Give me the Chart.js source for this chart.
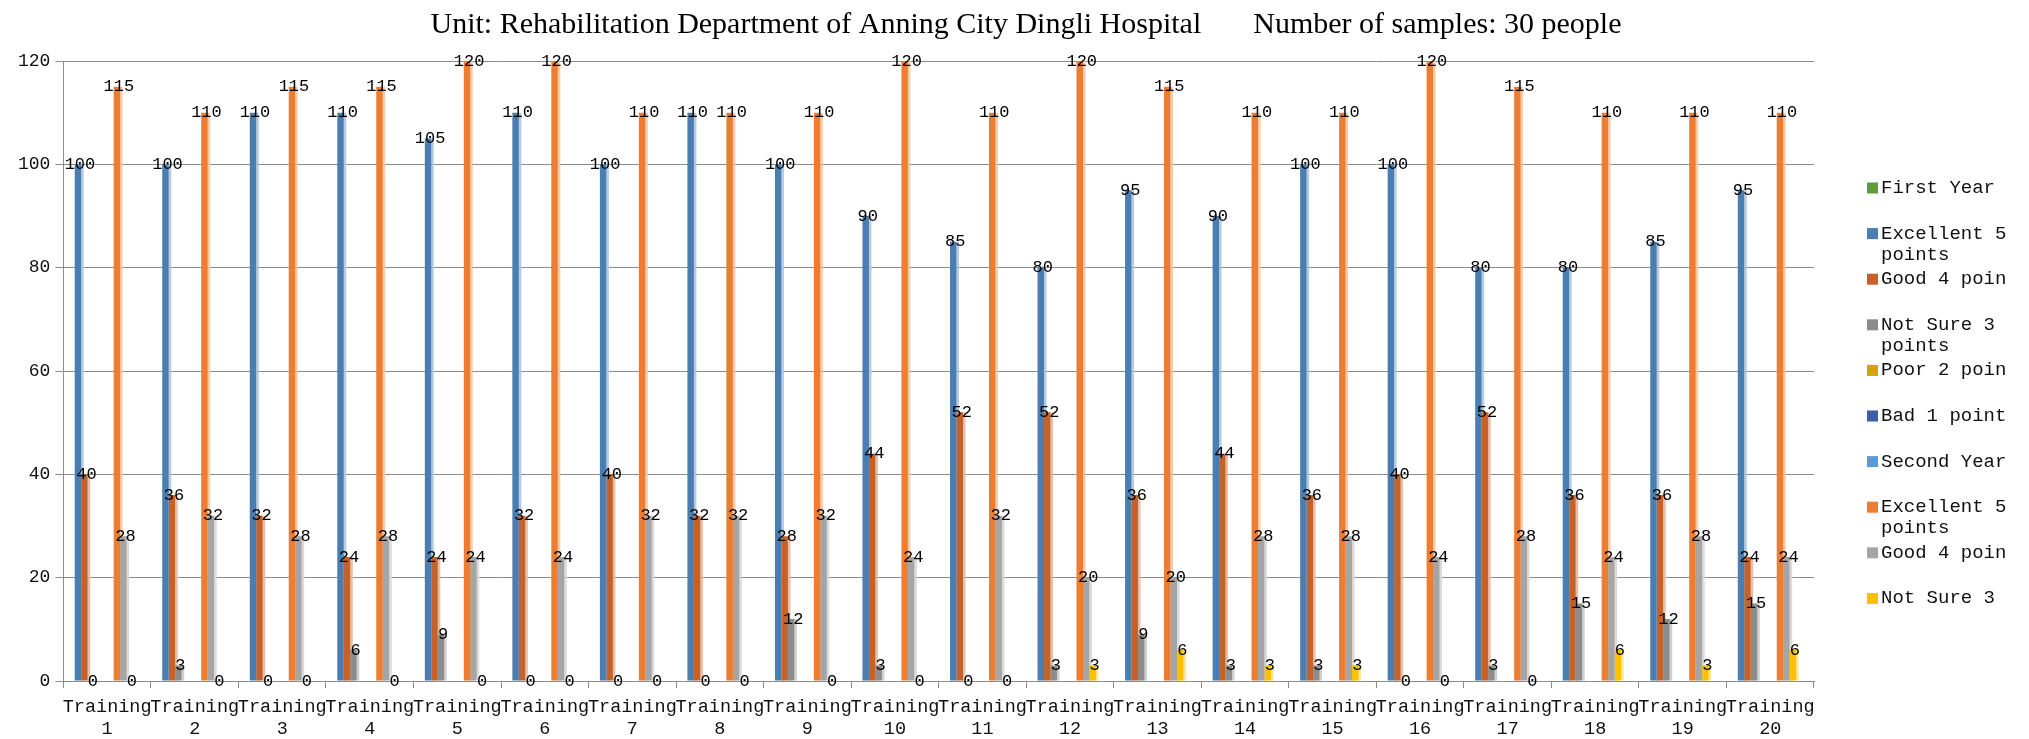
<!DOCTYPE html>
<html><head><meta charset="utf-8">
<script src="https://cdn.jsdelivr.net/npm/chart.js@4.4.0/dist/chart.umd.min.js"></script>
<style>html,body{margin:0;padding:0;background:#fff;overflow:hidden}canvas{display:block}</style>
</head><body>
<canvas id="c" width="2029" height="739"></canvas>
<script>
const titleLeft = "Unit: Rehabilitation Department of Anning City Dingli Hospital";
const titleRight = "Number of samples: 30 people";
const categories = ["Training 1","Training 2","Training 3","Training 4","Training 5","Training 6","Training 7","Training 8","Training 9","Training 10","Training 11","Training 12","Training 13","Training 14","Training 15","Training 16","Training 17","Training 18","Training 19","Training 20"];
const yTicks = [0, 20, 40, 60, 80, 100, 120];

const firstYear  = [0,0,0,0,0,0,0,0,0,0,0,0,0,0,0,0,0,0,0,0];
const excellent1 = [100,100,110,110,105,110,100,110,100,90,85,80,95,90,100,100,80,80,85,95];
const good1      = [40,36,32,24,24,32,40,32,28,44,52,52,36,44,36,40,52,36,36,24];
const notSure1   = [0,3,0,6,9,0,0,0,12,3,0,3,9,3,3,0,3,15,12,15];
const poor1      = [0,0,0,0,0,0,0,0,0,0,0,0,0,0,0,0,0,0,0,0];
const bad1       = [0,0,0,0,0,0,0,0,0,0,0,0,0,0,0,0,0,0,0,0];
const secondYear = [0,0,0,0,0,0,0,0,0,0,0,0,0,0,0,0,0,0,0,0];
const excellent2 = [115,110,115,115,120,120,110,110,110,120,110,120,115,110,110,120,115,110,110,110];
const good2      = [28,32,28,28,24,24,32,32,32,24,32,20,20,28,28,24,28,24,28,24];
const notSure2   = [0,0,0,0,0,0,0,0,0,0,0,3,6,3,3,0,0,6,3,6];
const poor2      = [0,0,0,0,0,0,0,0,0,0,0,0,0,0,0,0,0,0,0,0];
const bad2       = [0,0,0,0,0,0,0,0,0,0,0,0,0,0,0,0,0,0,0,0];

const seriesNames = ["First Year","Excellent 5\npoints","Good 4 points","Not Sure 3\npoints","Poor 2 points","Bad 1 point","Second Year","Excellent 5\npoints","Good 4 points","Not Sure 3\npoints","Poor 2 points","Bad 1 point"];
const seriesValues = [firstYear, excellent1, good1, notSure1, poor1, bad1, secondYear, excellent2, good2, notSure2, poor2, bad2];
const seriesColors = ["#5f9a3c","#4a7eb2","#c4622a","#8c8c8c","#d4a20a","#3b5ea6","#5b9bd5","#ed7d31","#a5a5a5","#ffc000","#4472c4","#70ad47"];
const labeledSeries = [1,2,3,7,8,9];

const MONO = "'Liberation Mono', 'DejaVu Sans Mono', monospace";

function lighten(hex, f, a) {
  const n = parseInt(hex.slice(1), 16);
  const r = (n >> 16) & 255, g = (n >> 8) & 255, b = n & 255;
  const m = c => Math.round(c + (255 - c) * f);
  return `rgba(${m(r)},${m(g)},${m(b)},${a})`;
}

const shadowPlugin = {
  id: 'shadowStrip',
  beforeDatasetsDraw(chart) {
    const ctx = chart.ctx;
    chart.data.datasets.forEach((ds, i) => {
      const meta = chart.getDatasetMeta(i);
      ctx.save();
      ctx.fillStyle = lighten(seriesColors[i], 0.55, 0.9);
      meta.data.forEach((el, j) => {
        if (ds.data[j] > 0) {
          ctx.fillRect(el.x + el.width / 2, el.y, 2.5, el.base - el.y);
        }
      });
      ctx.restore();
    });
  }
};

const labelPlugin = {
  id: 'valueLabels',
  afterDatasetsDraw(chart) {
    const ctx = chart.ctx;
    ctx.save();
    ctx.font = "17px " + MONO;
    ctx.fillStyle = "#000";
    ctx.textAlign = "center";
    ctx.textBaseline = "middle";
    labeledSeries.forEach(i => {
      const meta = chart.getDatasetMeta(i);
      meta.data.forEach((el, j) => {
        ctx.fillText(String(chart.data.datasets[i].data[j]), el.x + 2, el.y);
      });
    });
    ctx.restore();
  }
};

const titlePlugin = {
  id: 'topTitle',
  afterDraw(chart) {
    const ctx = chart.ctx;
    ctx.save();
    ctx.font = "30px 'Liberation Serif', 'Times New Roman', serif";
    ctx.fillStyle = "#000";
    ctx.textBaseline = "alphabetic";
    ctx.textAlign = "left";
    const gap = 52;
    const w1 = ctx.measureText(titleLeft).width;
    const w2 = ctx.measureText(titleRight).width;
    const start = 1026 - (w1 + gap + w2) / 2;
    ctx.fillText(titleLeft, start, 33);
    ctx.fillText(titleRight, start + w1 + gap, 33);
    ctx.restore();
  }
};

const legendPlugin = {
  id: 'sideLegend',
  afterDraw(chart) {
    const ctx = chart.ctx;
    ctx.save();
    ctx.beginPath();
    ctx.rect(1855, 160, 2006 - 1855, 608 - 160);
    ctx.clip();
    ctx.font = "19px " + MONO;
    ctx.textBaseline = "middle";
    ctx.textAlign = "left";
    seriesNames.forEach((name, i) => {
      const yc = 188 + i * 45.6;
      ctx.fillStyle = seriesColors[i];
      ctx.fillRect(1867, yc - 5.5, 11, 11);
      ctx.fillStyle = "#111";
      name.split("\n").forEach((line, k) => {
        ctx.fillText(line, 1881, yc + k * 21);
      });
    });
    ctx.restore();
  }
};

const datasets = seriesValues.map((vals, i) => ({
  label: seriesNames[i].replace("\n", " "),
  data: vals,
  backgroundColor: seriesColors[i],
  borderWidth: 0,
  barPercentage: 1.0,
  categoryPercentage: 0.89
}));

new Chart(document.getElementById('c').getContext('2d'), {
  type: 'bar',
  data: { labels: categories.map(c => c.split(' ')), datasets },
  plugins: [shadowPlugin, labelPlugin, titlePlugin, legendPlugin],
  options: {
    responsive: false,
    animation: false,
    devicePixelRatio: 1,
    layout: { padding: { left: 13, right: 215, top: 61, bottom: 0 } },
    plugins: { legend: { display: false }, title: { display: false }, tooltip: { enabled: false } },
    scales: {
      x: {
        afterFit: s => { s.height = 58; },
        grid: { display: true, drawOnChartArea: false, drawTicks: true, tickLength: 7, color: '#8c8c8c', offset: true },
        border: { color: '#8c8c8c', width: 1 },
        ticks: { font: { family: MONO, size: 18.5, lineHeight: 1.19 }, color: '#111', padding: 8, maxRotation: 0, minRotation: 0, autoSkip: false }
      },
      y: {
        min: 0, max: 120,
        afterBuildTicks: axis => { axis.ticks = yTicks.map(v => ({ value: v })); },
        ticks: { font: { family: MONO, size: 18 }, color: '#111', padding: 5 },
        grid: { color: '#8c8c8c', tickLength: 8, drawTicks: true },
        border: { color: '#8c8c8c', width: 1 }
      }
    }
  }
});
</script>
</body></html>
